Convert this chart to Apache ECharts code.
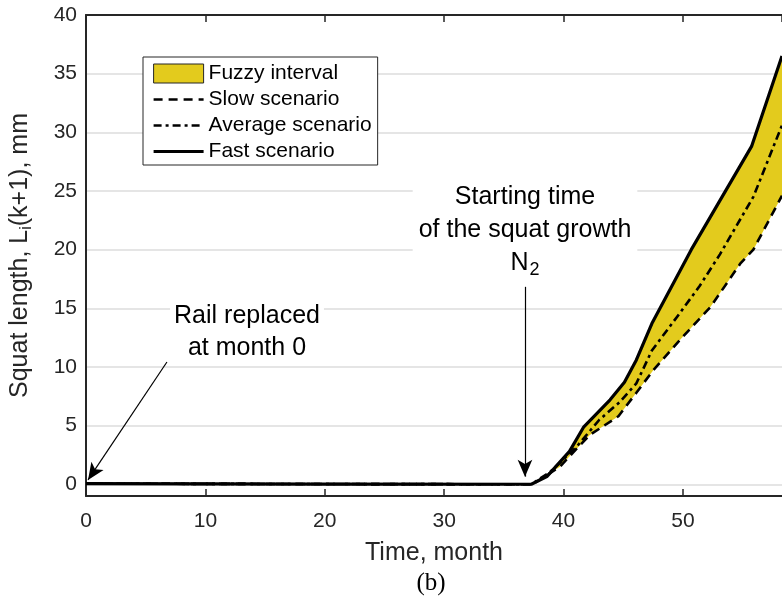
<!DOCTYPE html>
<html>
<head>
<meta charset="utf-8">
<script src="https://cdn.jsdelivr.net/npm/echarts@6/dist/echarts.min.js"></script>
<style>
  html, body { margin: 0; padding: 0; background: #ffffff; }
  #chart { width: 782px; height: 599px; }
</style>
</head>
<body>
<div id="chart"></div>
<script>
// Squat length over time for three growth scenarios, with the fuzzy band
// spanning the slow and fast scenarios.

const fastTime = [0, 20, 37.3, 38.6, 40.5, 41.7, 43.9, 45.1, 46.1, 47.4, 50.7, 55.75, 58.3];
const fastLen  = [0.05, 0.02, 0, 0.65, 2.8, 4.9, 7.2, 8.7, 10.6, 13.7, 20.0, 28.8, 36.5];

const slowTime = [0, 20, 37.4, 39.7, 40.7, 42.2, 44.6, 46.1, 47.5, 49.75, 52.3, 54.8, 55.9, 58.3];
const slowLen  = [0.05, 0.02, 0, 1.5, 2.6, 4.2, 5.8, 7.8, 9.7, 12.3, 15.1, 18.8, 20.0, 24.6];

const avgTime = [0, 20, 37.3, 38.9, 41.1, 43.0, 44.7, 46.1, 47.4, 49.75, 51.4, 53.1, 55.9, 58.3];
const avgLen  = [0.05, 0.02, 0, 1.07, 3.2, 5.5, 7.0, 8.6, 11.4, 14.6, 16.9, 19.6, 24.5, 30.6];

// Annotation arrows: [start, tip] in (month, mm)
const railArrow  = [[6.78, 10.42], [0.17, 0.37]];
const startArrow = [[36.77, 16.83], [36.77, 0.65]];

const seriesNames = ['Fuzzy interval', 'Slow scenario', 'Average scenario', 'Fast scenario'];

const FONT = '"Liberation Sans", Arial, Helvetica, sans-serif';
const FILL = '#e3cb1d';
const INK = '#262626';

const slowStyle = { color: '#000000', width: 2.6, type: [9, 6] };
const avgStyle  = { color: '#000000', width: 2.6, type: [8, 4, 3, 4] };
const fastStyle = { color: '#000000', width: 3.2, type: 'solid' };

function pairs(xs, ys) { return xs.map((x, i) => [x, ys[i]]); }

const chart = echarts.init(document.getElementById('chart'), null, { renderer: 'canvas' });

const axisCommon = {
  type: 'value',
  min: 0,
  max: 58.3,
  interval: 10,
  axisLine: { show: true, onZero: false, lineStyle: { color: INK, width: 2 } },
  axisTick: { show: true, inside: true, length: 7, lineStyle: { color: INK, width: 1.5 } },
  splitLine: { show: false }
};

// line legend entries: line only, no marker
function lineLegend(name, style) {
  return {
    name: name,
    itemStyle: { opacity: 0, borderWidth: 0 },
    lineStyle: style
  };
}

chart.setOption({
  animation: false,
  backgroundColor: '#ffffff',
  textStyle: { fontFamily: FONT },
  grid: { left: 86, right: 0, top: 15, bottom: 103, containLabel: false },
  legend: {
    data: [
      { name: seriesNames[0], icon: 'rect', itemStyle: { color: FILL, borderColor: INK, borderWidth: 1 } },
      lineLegend(seriesNames[1], slowStyle),
      lineLegend(seriesNames[2], avgStyle),
      lineLegend(seriesNames[3], fastStyle)
    ],
    orient: 'vertical',
    left: 143,
    top: 57,
    padding: [6, 6, 3, 9],
    itemGap: 5,
    itemWidth: 50,
    itemHeight: 19,
    selectedMode: false,
    backgroundColor: '#ffffff',
    borderColor: INK,
    borderWidth: 1,
    textStyle: { fontFamily: FONT, fontSize: 21, color: '#000000' }
  },
  xAxis: [
    Object.assign({}, axisCommon, {
      position: 'bottom',
      name: 'Time, month',
      nameLocation: 'middle',
      nameGap: 45,
      nameTextStyle: { fontFamily: FONT, fontSize: 25, color: INK },
      axisLabel: { show: true, margin: 15, fontFamily: FONT, fontSize: 21, color: INK, showMaxLabel: false }
    }),
    Object.assign({}, axisCommon, {
      position: 'top',
      axisLabel: { show: false }
    })
  ],
  yAxis: {
    type: 'value',
    min: -1,
    max: 40,
    splitNumber: 8,
    name: 'Squat length, L{sub|i}(k+1), mm',
    nameLocation: 'middle',
    nameGap: 53,
    nameRotate: 90,
    nameTextStyle: {
      fontFamily: FONT, fontSize: 25, color: INK,
      rich: { sub: { fontFamily: FONT, fontSize: 16, color: INK, padding: [0, 0, -12, 0] } }
    },
    axisLine: { show: true, onZero: false, lineStyle: { color: INK, width: 2 } },
    axisTick: { show: false },
    axisLabel: { margin: 9, fontFamily: FONT, fontSize: 21, color: INK, showMinLabel: false },
    splitLine: { show: true, lineStyle: { color: '#dcdcdc', width: 1.5 } }
  },
  series: [
    {
      name: seriesNames[0],
      type: 'custom',
      coordinateSystem: 'cartesian2d',
      clip: true,
      z: 2,
      itemStyle: { color: FILL },
      data: [[fastTime[0], fastLen[0]]],
      renderItem: function (params, api) {
        const pts = [];
        for (let i = 0; i < fastTime.length; i++) pts.push(api.coord([fastTime[i], fastLen[i]]));
        for (let i = slowTime.length - 1; i >= 0; i--) pts.push(api.coord([slowTime[i], slowLen[i]]));
        return { type: 'polygon', shape: { points: pts }, style: { fill: FILL, stroke: null } };
      }
    },
    {
      name: seriesNames[1],
      type: 'line',
      z: 3,
      data: pairs(slowTime, slowLen),
      symbol: 'none',
      clip: true,
      lineStyle: slowStyle,
      itemStyle: { color: '#000000' }
    },
    {
      name: seriesNames[2],
      type: 'line',
      z: 4,
      data: pairs(avgTime, avgLen),
      symbol: 'none',
      clip: true,
      lineStyle: avgStyle,
      itemStyle: { color: '#000000' }
    },
    {
      name: seriesNames[3],
      type: 'line',
      z: 5,
      data: pairs(fastTime, fastLen),
      symbol: 'none',
      clip: true,
      lineStyle: fastStyle,
      itemStyle: { color: '#000000' },
      markLine: {
        silent: true,
        symbol: ['none', 'arrow'],
        symbolSize: [11, 17],
        label: { show: false },
        emphasis: { disabled: true },
        lineStyle: { color: '#000000', width: 1.2, type: 'solid' },
        data: [
          [{ coord: railArrow[0] }, { coord: railArrow[1] }],
          [{ coord: startArrow[0] }, { coord: startArrow[1] }]
        ]
      }
    }
  ],
  graphic: [
    {
      type: 'text',
      z: 50,
      x: 247, y: 332,
      style: {
        text: 'Rail replaced\nat month 0',
        align: 'center', verticalAlign: 'middle',
        font: '25px ' + FONT,
        lineHeight: 32,
        fill: '#000000',
        backgroundColor: '#ffffff',
        padding: [2, 4]
      }
    },
    {
      type: 'text',
      z: 50,
      x: 525, y: 230,
      style: {
        text: 'Starting time\nof the squat growth\nN{sub|2}',
        align: 'center', verticalAlign: 'middle',
        font: '25px ' + FONT,
        lineHeight: 33,
        fill: '#000000',
        backgroundColor: '#ffffff',
        padding: [6, 6],
        rich: { sub: { font: '18px ' + FONT, fill: '#000000', padding: [14, 0, 0, 1] } }
      }
    },
    {
      type: 'text',
      z: 50,
      x: 431, y: 583,
      style: {
        text: '(b)',
        align: 'center', verticalAlign: 'middle',
        font: '25px "Liberation Serif", "Times New Roman", serif',
        fill: '#000000'
      }
    }
  ]
});
</script>
</body>
</html>
